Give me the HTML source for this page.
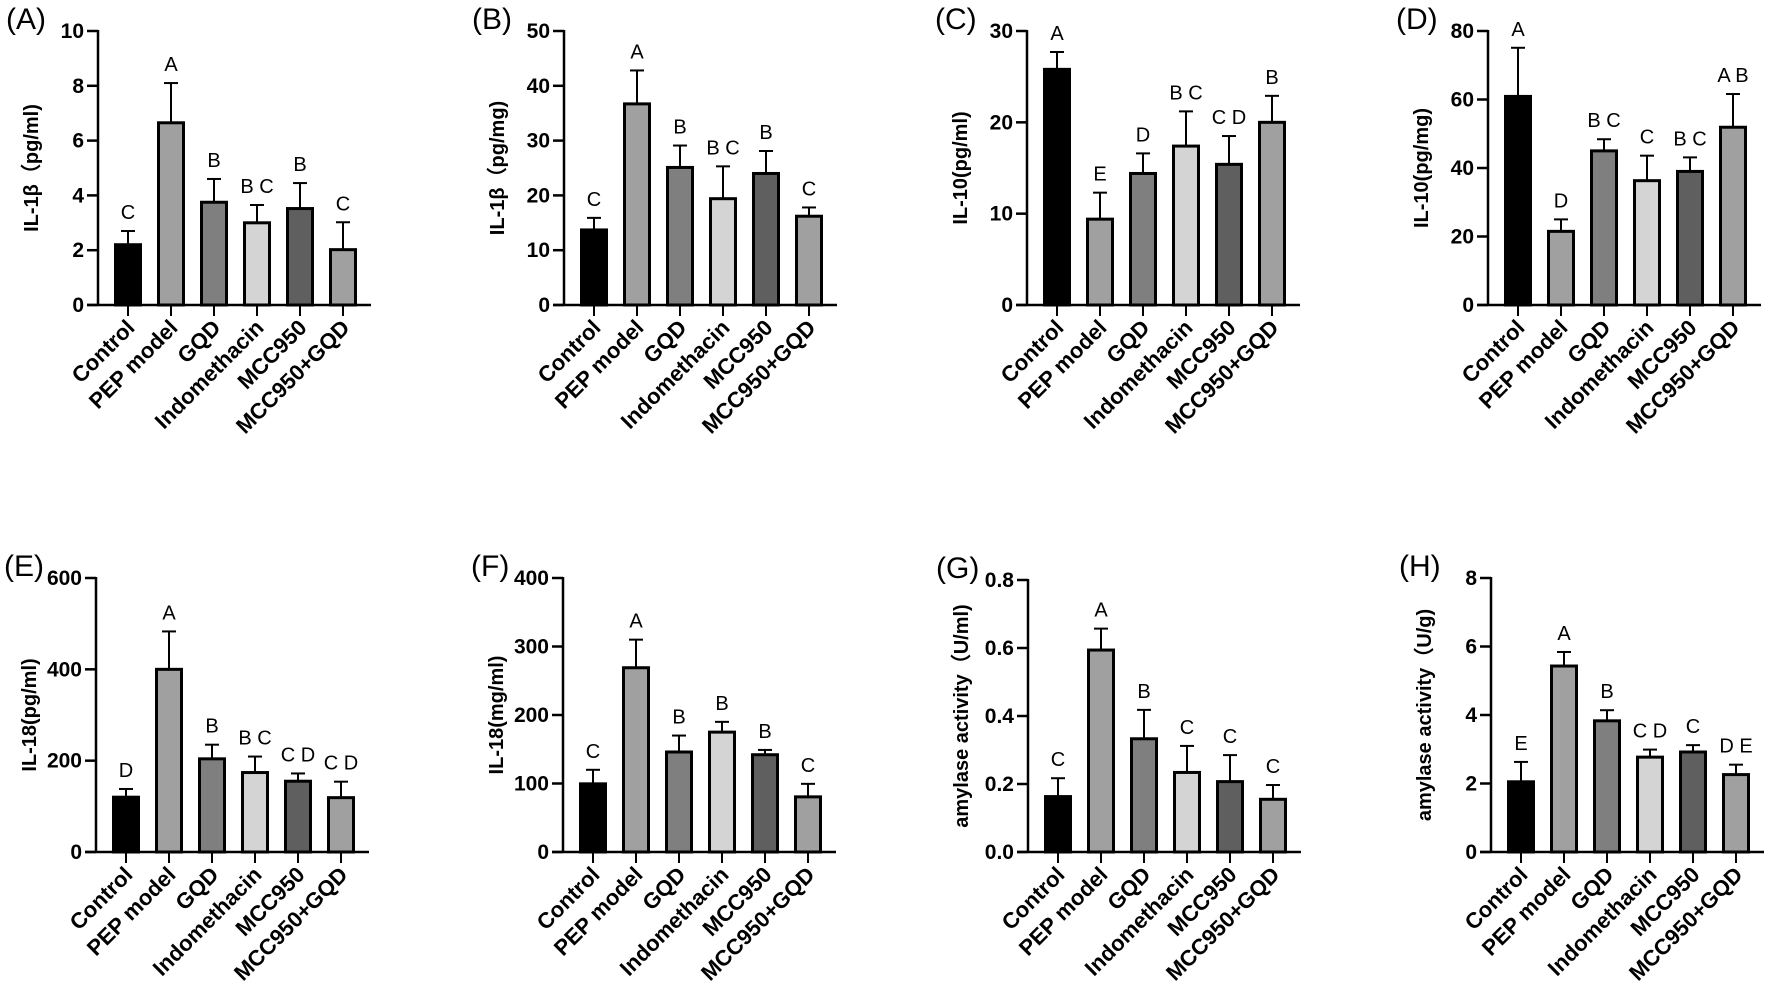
<!DOCTYPE html>
<html><head><meta charset="utf-8"><style>
html,body{margin:0;padding:0;background:#fff}
svg{display:block}
text{font-family:"Liberation Sans",Arial,sans-serif}
</style></head><body>
<svg id="fig" width="1772" height="984" viewBox="0 0 1772 984" xmlns="http://www.w3.org/2000/svg"></svg>
<script>
const categories = ["Control","PEP model","GQD","Indomethacin","MCC950","MCC950+GQD"];
const fills = ["#000000","#a0a0a0","#7f7f7f","#d4d4d4","#5f5f5f","#a0a0a0"];

const valsA = [2.2,6.65,3.75,3.0,3.52,2.02];
const errA  = [2.7,8.1,4.6,3.65,4.45,3.02];
const letA  = ["C","A","B","B C","B","C"];
const ticksA = [0,2,4,6,8,10];

const valsB = [13.7,36.7,25.1,19.4,24.0,16.2];
const errB  = [15.9,42.8,29.1,25.3,28.1,17.8];
const letB  = ["C","A","B","B C","B","C"];
const ticksB = [0,10,20,30,40,50];

const valsC = [25.8,9.4,14.4,17.4,15.4,20.0];
const errC  = [27.7,12.3,16.6,21.2,18.5,22.9];
const letC  = ["A","E","D","B C","C D","B"];
const ticksC = [0,10,20,30];

const valsD = [60.9,21.5,45.0,36.3,39.0,51.9];
const errD  = [75.1,25.0,48.4,43.6,43.1,61.6];
const letD  = ["A","D","B C","C","B C","A B"];
const ticksD = [0,20,40,60,80];

const valsE = [120,400,204,174,155,119];
const errE  = [138,483,235,209,172,154];
const letE  = ["D","A","B","B C","C D","C D"];
const ticksE = [0,200,400,600];

const valsF = [99.5,269,146,175,142,80.5];
const errF  = [120,310,170,190,149,99.5];
const letF  = ["C","A","B","B","B","C"];
const ticksF = [0,100,200,300,400];

const valsG = [0.163,0.594,0.333,0.234,0.207,0.155];
const errG  = [0.217,0.657,0.418,0.312,0.285,0.197];
const letG  = ["C","A","B","C","C","C"];
const ticksG = [0.0,0.2,0.4,0.6,0.8];
const tickLabG = ["0.0","0.2","0.4","0.6","0.8"];

const valsH = [2.05,5.43,3.83,2.77,2.92,2.26];
const errH  = [2.63,5.84,4.14,2.99,3.12,2.55];
const letH  = ["E","A","B","C D","C","D E"];
const ticksH = [0,2,4,6,8];

const NS="http://www.w3.org/2000/svg";
const svg=document.getElementById('fig');
function mk(tag,attrs,parent,txt){const e=document.createElementNS(NS,tag);for(const k in attrs)e.setAttribute(k,attrs[k]);if(txt!==undefined)e.textContent=txt;(parent||svg).appendChild(e);return e;}

const panels=[
 {id:"a",lab:"(A)",ax:98,top:31,zero:305,title:"IL-1β（pg/ml)",vals:valsA,err:errA,let:letA,ticks:ticksA},
 {id:"b",lab:"(B)",ax:564,top:31,zero:305,title:"IL-1β（pg/mg)",vals:valsB,err:errB,let:letB,ticks:ticksB},
 {id:"c",lab:"(C)",ax:1027,top:31,zero:305,title:"IL-10(pg/ml)",vals:valsC,err:errC,let:letC,ticks:ticksC},
 {id:"d",lab:"(D)",ax:1488,top:31,zero:305,title:"IL-10(pg/mg)",vals:valsD,err:errD,let:letD,ticks:ticksD},
 {id:"e",lab:"(E)",ax:96,top:578,zero:852,title:"IL-18(pg/ml)",vals:valsE,err:errE,let:letE,ticks:ticksE},
 {id:"f",lab:"(F)",ax:563,top:578,zero:852,title:"IL-18(mg/ml)",vals:valsF,err:errF,let:letF,ticks:ticksF},
 {id:"g",lab:"(G)",ax:1028,top:580,zero:852,title:"amylase activity（U/ml)",vals:valsG,err:errG,let:letG,ticks:ticksG,tl:tickLabG},
 {id:"h",lab:"(H)",ax:1491,top:578,zero:852,title:"amylase activity（U/g)",vals:valsH,err:errH,let:letH,ticks:ticksH}
];

panels.forEach(p=>{
  const g=mk('g',{});
  
  
  const ymax=p.ticks[p.ticks.length-1];
  const y=v=>p.zero-(v/ymax)*(p.zero-p.top);
  const x=i=>p.ax+30+i*43;
  const lab=mk('text',{x:p.ax-92,y:p.top-2,'font-size':30,fill:'#000'},g,p.lab);
  
  
  const tt=mk('text',{x:0,y:0,'font-size':20,'font-weight':'bold','text-anchor':'middle',transform:`translate(${p.ax-60},${(p.top+p.zero)/2}) rotate(-90)`},g,p.title);
  
  
  p.vals.forEach((v,i)=>{
    const cx=x(i);
    const el=mk('line',{x1:cx,x2:cx,y1:y(v),y2:y(p.err[i]),stroke:'#000','stroke-width':2},g);
    
    
    mk('line',{x1:cx-7,x2:cx+7,y1:y(p.err[i]),y2:y(p.err[i]),stroke:'#000','stroke-width':2},g);
    const r=mk('rect',{x:cx-12.5,y:y(v),width:25,height:p.zero-y(v),fill:fills[i],stroke:'#000','stroke-width':3},g);
    
    
    const t=mk('text',{x:cx,y:y(p.err[i])-12,'font-size':20,'text-anchor':'middle'},g,p.let[i]);
    
    
    mk('line',{x1:cx,x2:cx,y1:p.zero,y2:p.zero+11,stroke:'#000','stroke-width':2},g);
    const c=mk('text',{x:0,y:0,'font-size':22,'font-weight':'bold','text-anchor':'end',transform:`translate(${cx+8},${p.zero+24}) rotate(-45)`},g,categories[i]);
    
    
  });
  const ya=mk('line',{x1:p.ax,x2:p.ax,y1:p.top-1,y2:p.zero+1,stroke:'#000','stroke-width':2.5},g);
  
  
  const xa=mk('line',{x1:p.ax-11,x2:p.ax+273,y1:p.zero,y2:p.zero,stroke:'#000','stroke-width':2.5},g);
  
  
  p.ticks.forEach((t,k)=>{
    mk('line',{x1:p.ax-11,x2:p.ax,y1:y(t),y2:y(t),stroke:'#000','stroke-width':2.5},g);
    const tl=mk('text',{x:p.ax-14,y:y(t)+7,'font-size':21,'font-weight':'bold','text-anchor':'end'},g,p.tl?p.tl[k]:String(t));
    
    
  });
});
</script>
</body></html>
